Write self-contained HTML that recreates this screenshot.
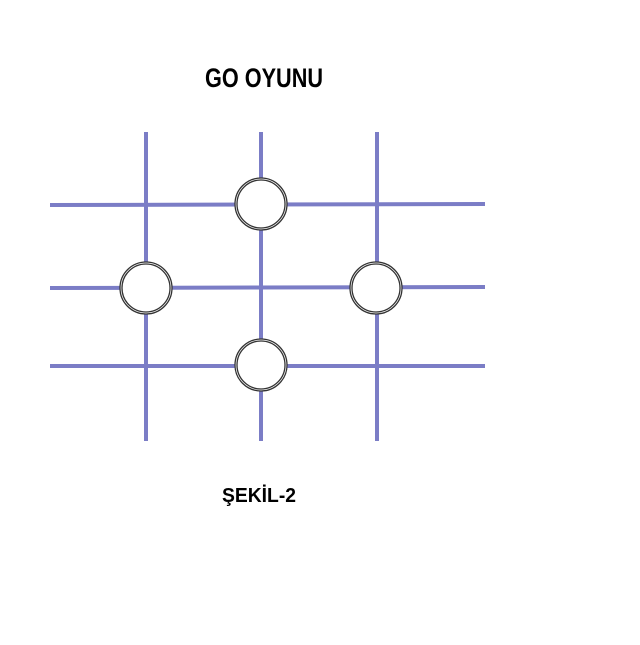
<!DOCTYPE html>
<html><head><meta charset="utf-8"><style>
html,body{margin:0;padding:0;background:#fff;}
</style></head><body>
<svg width="640" height="640" xmlns="http://www.w3.org/2000/svg">
<rect width="640" height="640" fill="#fff"/>
<g stroke="#7b7dc6" stroke-width="4" fill="none">
<line x1="146" y1="132" x2="146" y2="441"/>
<line x1="261" y1="132" x2="261" y2="441"/>
<line x1="377" y1="132" x2="377" y2="441"/>
<line x1="50" y1="205" x2="485" y2="204"/>
<line x1="50" y1="288" x2="485" y2="287"/>
<line x1="50" y1="366" x2="485" y2="366"/>
</g>
<g fill="#fff" stroke="#333" stroke-width="1.3">
<g><circle cx="261" cy="204" r="26"/><circle cx="261" cy="204" r="24"/></g>
<g><circle cx="146" cy="288" r="26"/><circle cx="146" cy="288" r="24"/></g>
<g><circle cx="376" cy="288" r="26"/><circle cx="376" cy="288" r="24"/></g>
<g><circle cx="261" cy="365" r="26"/><circle cx="261" cy="365" r="24"/></g>
</g>
<text x="264" y="87" text-anchor="middle" font-family="Liberation Sans, sans-serif" font-weight="bold" font-size="27" textLength="118" lengthAdjust="spacingAndGlyphs" fill="#000">GO OYUNU</text>
<text x="259" y="502" text-anchor="middle" font-family="Liberation Sans, sans-serif" font-weight="bold" font-size="20" textLength="74" lengthAdjust="spacingAndGlyphs" fill="#000">ŞEKİL-2</text>
</svg>
</body></html>
